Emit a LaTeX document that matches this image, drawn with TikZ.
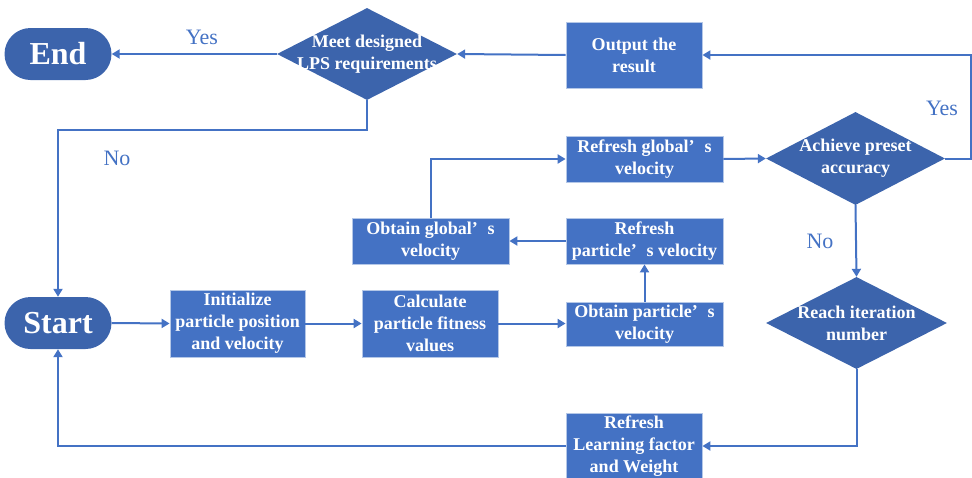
\documentclass[tikz,border=0pt]{standalone}
\usepackage{fontspec}
\setmainfont{LiberationSerif}[Extension=.ttf, UprightFont=*-Regular, BoldFont=*-Bold, ItalicFont=*-Italic, BoldItalicFont=*-BoldItalic]
\usetikzlibrary{shapes.geometric,arrows.meta}
\definecolor{boxblue}{HTML}{4472C4}
\definecolor{dblue}{HTML}{3C64AC}
\definecolor{lineblue}{HTML}{4472C4}
\definecolor{edgeblue}{HTML}{B4C7E7}
\newcommand{\apos}{’\hspace{0.55em}}
\begin{document}
\begin{tikzpicture}[x=1pt,y=-1pt,
  pbox/.style={rectangle, fill=boxblue, draw=edgeblue, line width=0.8pt, inner sep=0pt,
    text=white, font=\bfseries\fontsize{18}{22}\selectfont, align=center},
  pill/.style={rectangle, rounded corners=26pt, fill=dblue, minimum width=107pt, minimum height=52pt,
    inner sep=0pt, text=white, font=\bfseries\fontsize{32}{36}\selectfont},
  dia/.style={diamond, fill=dblue, inner sep=0pt},
  dtext/.style={text=white, font=\bfseries\fontsize{18}{22}\selectfont, align=center, inner sep=0pt},
  conn/.style={draw=lineblue, line width=2pt, -{Triangle[width=9pt,length=8pt]}},
  lbl/.style={text=lineblue, font=\fontsize{22}{26}\selectfont, inner sep=0pt}]
\useasboundingbox (0,0) rectangle (972,477);

% terminals
\node[pill] (end) at (58,54) {End};
\node[pill] (start) at (58,323) {Start};

% decisions
\node[dia, minimum width=180pt, minimum height=92pt] (meet) at (367,54) {};
\node[dtext] (meett) at (367,54) {Meet designed\\LPS requirements};
\node[dia, minimum width=179pt, minimum height=93pt] (ach) at (855.5,158.5) {};
\node[dtext] (acht) at (855.5,158.5) {Achieve preset\\accuracy};
\node[dia, minimum width=181pt, minimum height=92pt] (reach) at (856.5,323) {};
\node[dtext] (reacht) at (856.5,323) {Reach iteration\\number};

% process boxes
\node[pbox, minimum width=136pt, minimum height=66pt] (out) at (634,55) {Output the\\result};
\node[pbox, minimum width=135pt, minimum height=67pt] (init) at (237.5,323.5) {Initialize\\particle position\\and velocity};
\node[pbox, minimum width=136pt, minimum height=67pt] (calc) at (430,323.5) {Calculate\\particle fitness\\values};
\node[pbox, minimum width=157pt, minimum height=44pt] (obtp) at (644.5,324) {Obtain particle\apos s\\velocity};
\node[pbox, minimum width=157pt, minimum height=46pt] (refp) at (644.5,241) {Refresh\\particle\apos s velocity};
\node[pbox, minimum width=157pt, minimum height=46pt] (obtg) at (430.5,241) {Obtain global\apos s\\velocity};
\node[pbox, minimum width=157pt, minimum height=46pt] (refg) at (644.5,159) {Refresh global\apos s\\velocity};
\node[pbox, minimum width=136pt, minimum height=66pt] (refl) at (634,446) {Refresh\\Learning factor\\and Weight};

% helper coordinates
\coordinate (rc) at (971,55);
\coordinate (nl) at (58,130);

% connectors
\draw[conn] (meet.west) -- (end.east);
\draw[conn] (out.west) -- (meet.east);
\draw[conn] (ach.east) -- (ach.east -| rc) -- (rc) -- (out.east);
\draw[conn] (meet.south) |- (nl) -- (start.north);
\draw[conn] (start.east) -- (init.west);
\draw[conn] (init.east) -- (calc.west);
\draw[conn] (calc.east) -- (calc.east -| obtp.west);
\draw[conn] (obtp.north) -- (refp.south);
\draw[conn] (refp.west) -- (obtg.east);
\draw[conn] (obtg.north) |- (refg.west);
\draw[conn] (refg.east) -- (ach.west);
\draw[conn] (ach.south) -- (reach.north);
\draw[conn] (reach.south) |- (refl.east);
\draw[conn] (refl.west) -| (start.south);

% labels
\node[lbl] (yes1) at (202,37) {Yes};
\node[lbl] (no1) at (117,158) {No};
\node[lbl] (yes2) at (942,108) {Yes};
\node[lbl] (no2) at (820,241) {No};
\end{tikzpicture}
\end{document}
